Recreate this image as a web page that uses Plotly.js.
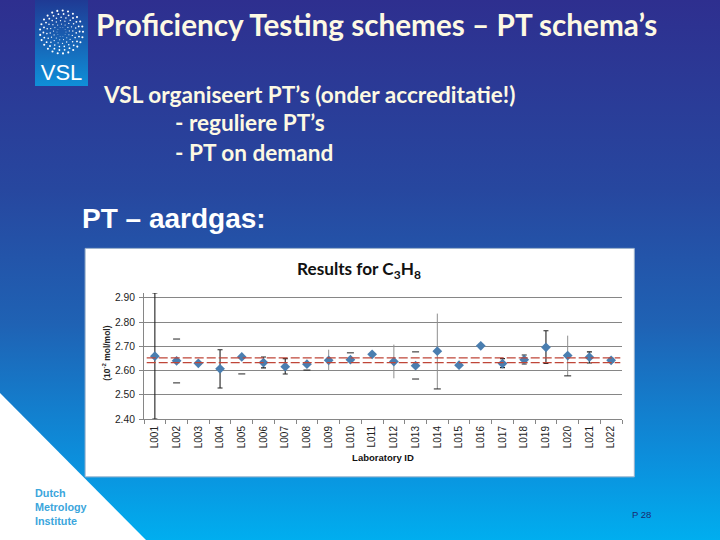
<!DOCTYPE html>
<html><head><meta charset="utf-8">
<script src="https://cdn.plot.ly/plotly-3.0.1.min.js"></script>
<style>
html,body{margin:0;padding:0;width:720px;height:540px;overflow:hidden}
body{background:linear-gradient(180deg,#2e2f8f 0%,#27479f 35%,#1f62b4 60%,#0c8fdc 85%,#00aeef 100%);position:relative}
#tri{position:absolute;left:0;top:0;width:720px;height:540px;background:#fff;clip-path:polygon(0 393px,146px 540px,0 540px)}
#logo{position:absolute;left:35px;top:0;width:53px;height:86px}
#chart{position:absolute;left:0;top:0;width:720px;height:540px}
</style></head><body>
<div id="tri"></div>
<svg id="logo" viewBox="0 0 53 86"><defs><linearGradient id="lg" x1="0" y1="0" x2="0" y2="1"><stop offset="0" stop-color="#1f3a94"/><stop offset="1" stop-color="#0f8fd8"/></linearGradient></defs><rect width="53" height="86" fill="url(#lg)"/><g id="dots" fill="#fff"></g></svg>
<div id="chart"></div>
<script>
var labs = ['L001','L002','L003','L004','L005','L006','L007','L008','L009','L010','L011','L012','L013','L014','L015','L016','L017','L018','L019','L020','L021','L022'];
var results = [2.659,2.640,2.630,2.607,2.656,2.633,2.616,2.626,2.642,2.645,2.667,2.637,2.620,2.680,2.622,2.702,2.629,2.645,2.696,2.662,2.655,2.642];
var upper = [2.920,null,null,2.686,null,2.656,2.649,null,null,null,null,null,null,null,null,null,2.649,2.664,2.764,null,2.677,2.650];
var lower = [2.400,null,null,2.528,null,2.611,2.586,null,null,null,null,null,null,null,null,null,2.612,2.627,2.629,null,2.631,2.634];
var grayUpper = [null,null,null,null,null,null,null,null,2.686,null,null,2.707,null,2.835,null,null,null,null,null,2.744,null,null];
var grayLower = [null,null,null,null,null,null,null,null,2.598,null,null,2.568,null,2.524,null,null,null,null,null,2.578,null,null];
var capLabs = ['L002','L002','L005','L008','L010','L013','L013','L014','L020'];
var capVals = [2.730,2.549,2.586,2.602,2.673,2.677,2.565,2.524,2.578];
var refHigh = 2.652;
var refLow = 2.633;
var yTicks = [2.4,2.5,2.6,2.7,2.8,2.9];
var yTickText = ['2.40','2.50','2.60','2.70','2.80','2.90'];

function diff(a,b,sign){return a.map(function(v,i){return v===null?0:sign*(v-b[i]);});}
var cream='#fdf9e3';
function txt(x,y,t,size,fam,col,weight,extra){
  return Object.assign({xref:'paper',yref:'paper',x:x,y:y,text:t,showarrow:false,xanchor:'left',yanchor:'middle',align:'left',
    font:{size:size,family:fam,color:col,weight:weight}},extra||{});
}
var M={l:144.3,r:98.3,t:293.2,b:120.5};
var W=720-M.l-M.r,H=540-M.t-M.b;
function px(x){return (x-M.l)/W;}
function py(y){return (540-M.b-y)/H;}
var lato='Lato, sans-serif', lib='"Liberation Sans", Arial, sans-serif';
var refLine=function(v){return {type:'line',xref:'paper',yref:'y',layer:'above',x0:px(147),x1:px(620),y0:v,y1:v,line:{color:'#bf4638',width:1.2,dash:'9px,3px'}};};

var traces=[
 {type:'scatter',mode:'markers',x:labs,y:results,showlegend:false,cliponaxis:false,
  marker:{size:0.1,color:'rgba(0,0,0,0)'},
  error_y:{type:'data',symmetric:false,array:diff(grayUpper,results,1),arrayminus:diff(grayLower,results,-1),color:'#8f8f8f',thickness:1,width:0}},
 {type:'scatter',mode:'markers',x:labs,y:results,showlegend:false,cliponaxis:false,
  marker:{symbol:'diamond',size:7.5,color:'#4a7eb0'},
  error_y:{type:'data',symmetric:false,array:diff(upper,results,1),arrayminus:diff(lower,results,-1),color:'#222',thickness:1.1,width:2.5}},
 {type:'scatter',mode:'markers',x:capLabs,y:capVals,showlegend:false,
  marker:{symbol:'line-ew',size:5,line:{color:'#222',width:1}}}
];
var layout={
 width:720,height:540,margin:{l:M.l,r:M.r,t:M.t,b:M.b,pad:0},
 paper_bgcolor:'rgba(0,0,0,0)',plot_bgcolor:'rgba(0,0,0,0)',showlegend:false,
 xaxis:{type:'category',categoryorder:'array',categoryarray:labs,tickmode:'array',tickvals:labs,ticktext:labs,range:[-0.5,21.5],
   tickangle:-90,tickson:'boundaries',ticks:'outside',ticklen:4,tickcolor:'#868686',showgrid:false,zeroline:false,ticklabelstandoff:2,
   showline:true,linecolor:'#868686',linewidth:1,automargin:false,tickfont:{size:10,family:lib,color:'#222'},
   title:{text:'Laboratory ID',standoff:7,font:{size:9.5,family:lib,color:'#111',weight:700}}},
 yaxis:{range:[2.40,2.92],tickmode:'array',tickvals:yTicks,ticktext:yTickText,ticks:'outside',ticklen:4,ticklabelstandoff:2,
   tickcolor:'#868686',showgrid:true,gridcolor:'#868686',gridwidth:1,zeroline:false,showline:true,linecolor:'#868686',automargin:false,
   tickfont:{size:10.3,family:lib,color:'#222'}},
 shapes:[
  {type:'rect',xref:'paper',yref:'paper',layer:'below',x0:px(85.5),x1:px(634),y0:py(477.5),y1:py(248.5),fillcolor:'#ffffff',line:{color:'#9fb4cc',width:1}},
  refLine(refHigh),refLine(refLow)
 ],
 annotations:[
  txt(px(94.5),py(24.5),'Proficiency Testing schemes – PT schema’s',29.7,lato,cream,700),
  txt(px(101.5),py(94),'VSL organiseert PT’s (onder accreditatie!)',22.6,lato,cream,700),
  txt(px(173.5),py(122.5),'- reguliere PT’s',22.6,lato,cream,700),
  txt(px(173.5),py(152),'- PT on demand',22.6,lato,cream,700),
  txt(px(80.5),py(219),'PT – aardgas:',28,lib,'#ffffff',700),
  txt(px(295),py(270),'Results for C<sub>3</sub>H<sub>8</sub>',17.2,lato,'#111',700),
  txt(px(107.5),py(353),'(10<sup>-2</sup> mol/mol)',8.5,lib,'#222',700,{textangle:-90,xanchor:'center'}),
  txt(px(33),py(507.5),'Dutch<br>Metrology<br>Institute',10.8,lib,'#3ba6dc',700),
  txt(px(630),py(515),'P 28',9.5,lib,'#1b2a70',400)
 ]
};
(function(){
  var g=document.getElementById('dots'),s='';
  for(var r=0;r<6;r++){
    var rad=4.5+r*3.4,n=10+r*3;
    for(var k=0;k<n;k++){
      var a=2*Math.PI*k/n+r*0.35;
      s+='<circle cx="'+(26.5+rad*Math.cos(a)).toFixed(1)+'" cy="'+(32+rad*Math.sin(a)).toFixed(1)+'" r="'+(0.4+r*0.13).toFixed(2)+'"/>';
    }
  }
  s+='<text x="26.5" y="80" text-anchor="middle" font-family="Liberation Sans" font-size="22">VSL</text>';
  g.innerHTML=s;
})();
Plotly.newPlot('chart',traces,layout,{displayModeBar:false,staticPlot:true});
</script>
</body></html>
